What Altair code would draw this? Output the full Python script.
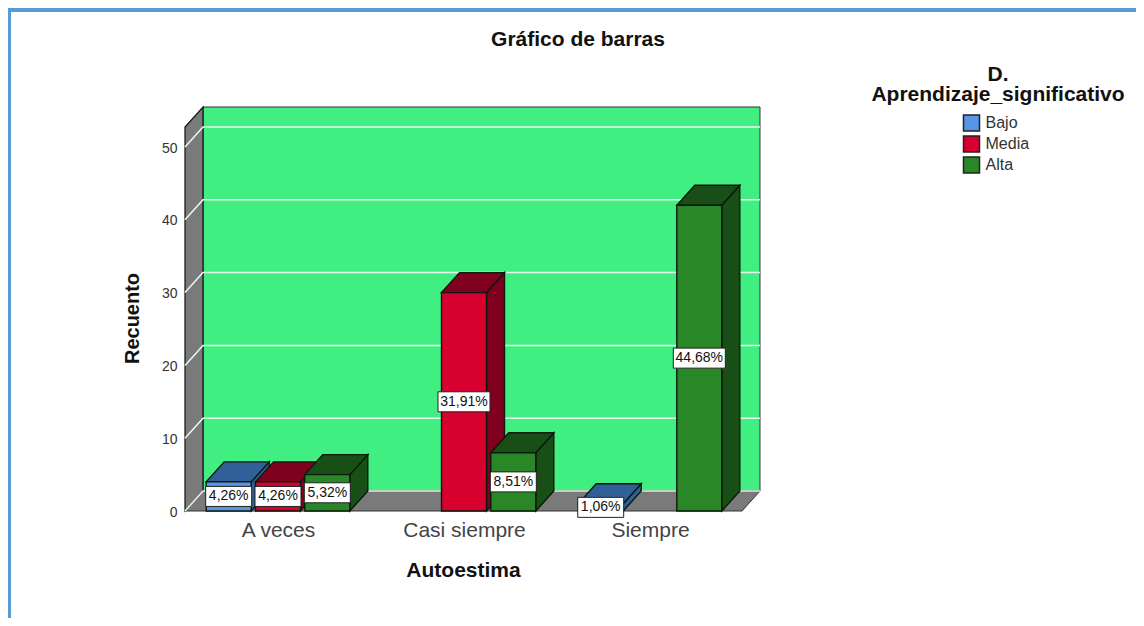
import json
import altair as alt
import pandas as pd

categories = ["A veces", "Casi siempre", "Siempre"]
levels = ["Bajo", "Media", "Alta"]
bar_category = [0, 0, 0, 1, 1, 2, 2]
bar_level = ["Bajo", "Media", "Alta", "Media", "Alta", "Bajo", "Alta"]
counts = [4, 4, 5, 30, 8, 1, 42]
percent_labels = ["4,26%", "4,26%", "5,32%", "31,91%", "8,51%", "1,06%", "44,68%"]
y_ticks = [0, 10, 20, 30, 40, 50]

front_colors = ["#5596E6", "#D7002F", "#298728"]
top_colors = {"Bajo": "#315F98", "Media": "#80001F", "Alta": "#184F17"}
font = "Liberation Sans"

W, H = 1128, 610
PX_U = 7.28
x_scale = alt.Scale(domain=[-1.4516, 4.6129], nice=False, zero=False)
y_scale = alt.Scale(domain=[(511 - 618) / PX_U, (511 - 8) / PX_U], nice=False, zero=False)
color_scale = alt.Scale(domain=levels, range=front_colors)
legend = alt.Legend(
    title=None, orient="none", legendX=954.5, legendY=106,
    symbolType="square", symbolSize=256, symbolStrokeColor="#222222", symbolStrokeWidth=1.5,
    labelFont=font, labelFontSize=16, labelColor="#333333", labelOffset=5,
    rowPadding=-1, symbolOpacity=1, labelLimit=200,
)

# depth of the 3D projection, in data units of each axis
DX = 18 / 186
DY = 20 / PX_U
LEFT, RIGHT = -0.5, 2.4946
TOP = (511 - 127) / PX_U
SLOT = 49.3 / 186
BAR_W = 45 / 186

x_axis = alt.Axis(
    values=[0, 1, 2], offset=-107, ticks=False, domain=False, grid=False,
    labelExpr=json.dumps(categories) + "[datum.value]",
    labelFont=font, labelFontSize=21, labelColor="#444444", labelPadding=8, labelAngle=0,
    labelOverlap=False, labelFlush=False,
    title="Autoestima", titleFont=font, titleFontSize=21, titleFontWeight="bold", titleColor="#111111",
    titleX=455, titleY=65, titleBaseline="alphabetic",
)
y_axis = alt.Axis(
    values=y_ticks, offset=-177, ticks=False, domain=False, grid=False,
    labelFont=font, labelFontSize=14, labelColor="#333333", labelPadding=8, labelOffset=1,
    title="Recuento", titleFont=font, titleFontSize=20, titleFontWeight="bold", titleColor="#111111",
    titleX=-47, titleY=310, titleAngle=-90, titleBaseline="alphabetic",
)


def X():
    return alt.X("x:Q", scale=x_scale, axis=x_axis)


def Y():
    return alt.Y("y:Q", scale=y_scale, stack=None, axis=y_axis)


Y2 = alt.Y2("y2:Q")

layers = []

# page frame
one = pd.DataFrame({"a": [0]})
layers.append(alt.Chart(one).mark_rect(color="#5B9BD5").encode(
    x=alt.value(0), x2=alt.value(W), y=alt.value(0), y2=alt.value(4)))
layers.append(alt.Chart(one).mark_rect(color="#5B9BD5").encode(
    x=alt.value(0), x2=alt.value(3), y=alt.value(0), y2=alt.value(H)))

# back wall
layers.append(alt.Chart(pd.DataFrame({
    "x": [LEFT + DX], "x2": [RIGHT + DX], "y": [DY], "y2": [TOP + DY]
})).mark_rect(fill="#40EE82", stroke="#333333", strokeWidth=1).encode(
    x=X(), x2="x2:Q", y=Y(), y2=Y2))

# left wall
layers.append(alt.Chart(pd.DataFrame({
    "x": [LEFT, LEFT + DX], "y": [0, DY], "y2": [TOP, TOP + DY]
})).mark_area(fill="#7A7A7A", stroke="#111111", strokeWidth=1.2, orient="vertical", opacity=1).encode(
    x=X(), y=Y(), y2=Y2))

# floor
layers.append(alt.Chart(pd.DataFrame({
    "x": [LEFT, LEFT + DX, RIGHT, RIGHT + DX],
    "y": [0, 0, 0, DY], "y2": [0, DY, DY, DY]
})).mark_area(fill="#7A7A7A", stroke="#333333", strokeWidth=1, orient="vertical", opacity=1).encode(
    x=X(), y=Y(), y2=Y2))

# grid lines running over left wall and back wall
grid = pd.DataFrame([
    {"t": t, "x": x, "y": t + dy}
    for t in y_ticks
    for x, dy in [(LEFT, 0), (LEFT + DX, DY), (RIGHT + DX, DY)]
])
layers.append(alt.Chart(grid).mark_line(color="#EAF8EE", strokeWidth=1.5).encode(
    x=X(), y=Y(), detail="t:N"))

# bars, drawn left to right so that each one covers its left neighbour's side
for cat, lev, val in zip(bar_category, bar_level, counts):
    i = levels.index(lev)
    cx = cat + (i - 1) * SLOT
    l, r = cx - BAR_W / 2, cx + BAR_W / 2
    dark = top_colors[lev]
    layers.append(alt.Chart(pd.DataFrame({
        "x": [r, r + DX], "y": [0, DY], "y2": [val, val + DY]
    })).mark_area(fill=dark, stroke="#0A1A0A", strokeWidth=1.4, orient="vertical", opacity=1).encode(
        x=X(), y=Y(), y2=Y2))
    layers.append(alt.Chart(pd.DataFrame({
        "x": [l, l + DX, r, r + DX],
        "y": [val, val, val, val + DY],
        "y2": [val, val + DY, val + DY, val + DY],
    })).mark_area(fill=dark, stroke="#0A1A0A", strokeWidth=1.4, orient="vertical", opacity=1).encode(
        x=X(), y=Y(), y2=Y2))
    layers.append(alt.Chart(pd.DataFrame({
        "x": [l], "x2": [r], "y": [0], "y2": [val], "level": [lev]
    })).mark_rect(stroke="#0A1A0A", strokeWidth=1.4, opacity=1).encode(
        x=X(), x2="x2:Q", y=Y(), y2=Y2,
        color=alt.Color("level:N", scale=color_scale, legend=legend)))

# value labels in white boxes, drawn last
rows = []
for cat, lev, val, txt in zip(bar_category, bar_level, counts, percent_labels):
    i = levels.index(lev)
    rows.append({"x": cat + (i - 1) * SLOT, "y": val / 2, "label": txt})
labels = pd.DataFrame(rows)
short = labels[labels["label"].str.len() == 5]
long_ = labels[labels["label"].str.len() == 6]
layers.append(alt.Chart(short).mark_point(
    shape="M-1,-0.435H1V0.435H-1Z", size=2116, filled=True, fill="#FFFFFF",
    stroke="#222222", strokeWidth=1, opacity=1,
).encode(x=X(), y=Y()))
layers.append(alt.Chart(long_).mark_point(
    shape="M-1,-0.385H1V0.385H-1Z", size=2704, filled=True, fill="#FFFFFF",
    stroke="#222222", strokeWidth=1, opacity=1,
).encode(x=X(), y=Y()))
layers.append(alt.Chart(labels).mark_text(
    font=font, fontSize=14, color="#111111", baseline="middle", align="center",
).encode(x=X(), y=Y(), text="label:N"))

# legend heading, centred over the legend, one text with a line break
legend_head = pd.DataFrame({
    "x": [(998 - 278) / 186], "y": [(511 - 81) / PX_U],
    "label": ["D.\nAprendizaje_significativo"],
})
layers.append(alt.Chart(legend_head).mark_text(
    font=font, fontSize=21, fontWeight="bold", color="#111111", align="center", baseline="alphabetic",
    lineBreak="\n", lineHeight=20,
).encode(x=X(), y=Y(), text="label:N"))

chart = alt.layer(*layers).properties(
    width=W, height=H, padding=0, autosize=alt.AutoSizeParams(type="none"),
    title=alt.TitleParams(
        "Gráfico de barras", font=font, fontSize=21, fontWeight="bold", color="#111111",
        anchor="middle", frame="group", dx=6, dy=63, baseline="alphabetic",
    ),
).configure_view(stroke=None)

chart.save("out.html", embed_options={"renderer": "svg", "actions": False})
